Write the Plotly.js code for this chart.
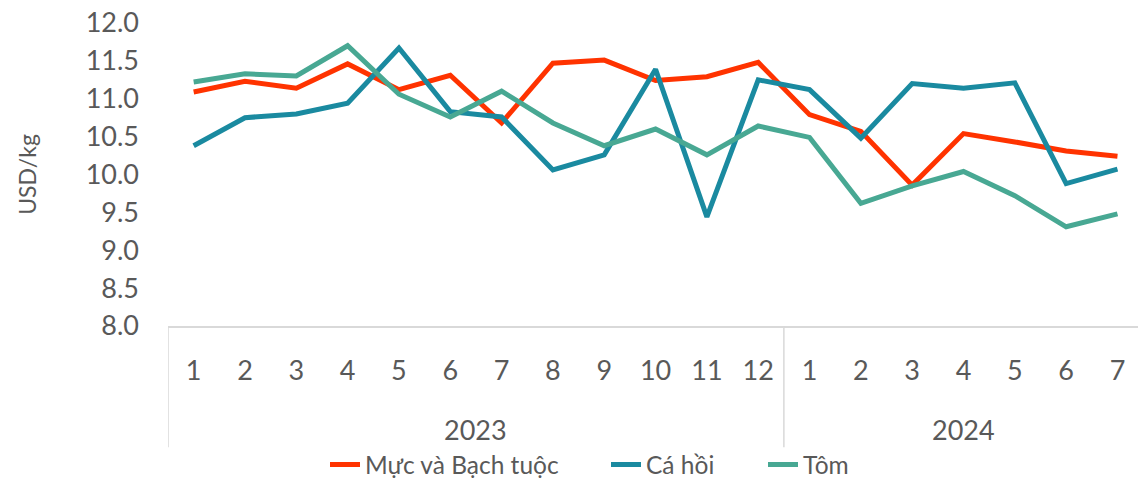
<!DOCTYPE html>
<html><head><meta charset="utf-8">
<script src="https://cdn.plot.ly/plotly-3.0.1.min.js"></script>
<style>html,body{margin:0;padding:0;background:#fff}#chart{width:1138px;height:479px}</style>
</head><body><div id="chart"></div>
<script>
const years = ["2023","2023","2023","2023","2023","2023","2023","2023","2023","2023","2023","2023","2024","2024","2024","2024","2024","2024","2024"];
const months = ["1","2","3","4","5","6","7","8","9","10","11","12","1","2","3","4","5","6","7"];
const mucBachTuoc = [11.09,11.23,11.14,11.46,11.12,11.31,10.68,11.47,11.51,11.24,11.29,11.48,10.79,10.57,9.86,10.54,10.43,10.31,10.24];
const caHoi = [10.38,10.75,10.80,10.94,11.67,10.83,10.76,10.06,10.26,11.39,9.44,11.25,11.12,10.48,11.20,11.14,11.21,9.88,10.07];
const tom = [11.22,11.33,11.30,11.70,11.06,10.76,11.10,10.68,10.38,10.60,10.26,10.64,10.49,9.62,9.85,10.04,9.72,9.31,9.48];
const yTicks = [8,8.5,9,9.5,10,10.5,11,11.5,12];
const yTickText = ["8.0","8.5","9.0","9.5","10.0","10.5","11.0","11.5","12.0"];

const idx = months.map((_, i) => i);
const mk = (name, y, color, lg) => ({type:'scatter', mode:'lines', name, x: idx, y, line:{color, width:5}, hoverinfo:'y', legend: lg});
const data = [
  mk("Mực và Bạch tuộc", mucBachTuoc, "#FF3300", 'legend'),
  mk("Cá hồi", caHoi, "#1A8AA0", 'legend2'),
  mk("Tôm", tom, "#48A893", 'legend3')
];

// year groups derived from the years array
const groups = [];
years.forEach((y, i) => {
  const g = groups.length && groups[groups.length-1].year === y ? groups[groups.length-1] : null;
  if (g) g.end = i; else groups.push({year: y, start: i, end: i});
});
const divColor = "#d9d9d9";
const divBottom = -0.40;
const shapes = groups.map(g => ({type:'line', xref:'x', yref:'paper', x0:g.start-0.5, x1:g.start-0.5, y0:0, y1:divBottom, line:{color:divColor, width:1.5}}));
const annotations = groups.map(g => ({xref:'x', yref:'paper', x:(g.start+g.end)/2, y:-0.343, yanchor:'middle', xanchor:'center', showarrow:false, text:g.year, font:{size:27, color:"#595959"}}));

const legFont = {size:24.5, color:"#595959"};
const legBase = {orientation:'h', xref:'container', yref:'container', xanchor:'left', yanchor:'middle', y:0.03, font:legFont, itemwidth:30, bgcolor:'rgba(0,0,0,0)'};
const layout = {
  width:1138, height:479,
  margin:{l:168, r:0, t:23, b:153, autoexpand:false},
  paper_bgcolor:"#fff", plot_bgcolor:"#fff",
  font:{family:"Lato, 'Open Sans', sans-serif", color:"#595959"},
  showlegend:true,
  legend: Object.assign({}, legBase, {x:325/1138}),
  legend2: Object.assign({}, legBase, {x:606/1138}),
  legend3: Object.assign({}, legBase, {x:763/1138}),
  shapes, annotations,
  xaxis:{type:'linear', range:[-0.5, 18.4], tickvals: idx, ticktext: months, showline:true, linecolor:divColor, linewidth:1.5,
    showgrid:false, zeroline:false, ticks:'', tickfont:{size:27, color:"#595959"}, ticklabelstandoff:20},
  yaxis:{range:[8,12], tickvals:yTicks, ticktext:yTickText, showgrid:false, zeroline:false, showline:false,
    tickfont:{size:27, color:"#595959"}, ticklabelstandoff:28,
    title:{text:"USD/kg", font:{size:23, color:"#595959"}, standoff:42}}
};
Plotly.newPlot('chart', data, layout, {displayModeBar:false, staticPlot:true});
</script></body></html>
